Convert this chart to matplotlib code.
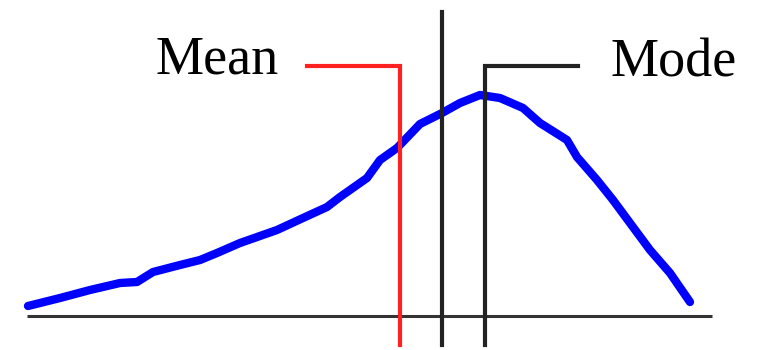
import numpy as np
import matplotlib
matplotlib.use("Agg")
import matplotlib.pyplot as plt

# skewed curve (x position, height above baseline)
curve_x = [28, 60, 90, 120, 137, 153, 180, 200, 217, 240, 277, 303, 327, 340,
           367, 380, 397, 420, 442, 460, 480, 500, 523, 540, 567, 577, 597,
           613, 630, 650, 670, 690]
curve_h = [10, 18, 26, 33, 34, 44, 51, 56, 63, 73, 86, 98, 109, 119,
           138, 156, 168, 192, 203, 213, 221, 218, 208, 193, 176, 159, 136,
           116, 93, 66, 43, 14]

mean_x = 400
median_x = 442
mode_x = 485
label_h = 250          # height of the label leaders
labels = ["Mean", "Mode"]

fig = plt.figure(figsize=(7.61, 3.5), dpi=100)
ax = fig.add_axes([0, 0, 1, 1])
ax.set_xlim(0, 761)
ax.set_ylim(-34, 316)
ax.axis("off")

# baseline
ax.plot([27, 712], [0, 0], color="#333333", lw=2.2, solid_capstyle="butt")

# the distribution
ax.plot(curve_x, curve_h, color="#0000ff", lw=6, solid_capstyle="round",
        solid_joinstyle="round", zorder=3)

# mean (red), median (plain), mode (black) markers
ax.plot([307, mean_x, mean_x], [label_h, label_h, -29], color="#ff2020",
        lw=3, solid_joinstyle="miter", zorder=4)
ax.plot([median_x, median_x], [304, -29], color="#222222", lw=3, zorder=4)
ax.plot([578, mode_x, mode_x], [label_h, label_h, -29], color="#222222",
        lw=3, solid_joinstyle="miter", zorder=4)

ax.text(217, 256, labels[0], fontsize=39, family="Liberation Serif",
        ha="center", va="center")
ax.text(674, 253, labels[1], fontsize=39, family="Liberation Serif",
        ha="center", va="center")

fig.savefig("out.png", dpi=100)
